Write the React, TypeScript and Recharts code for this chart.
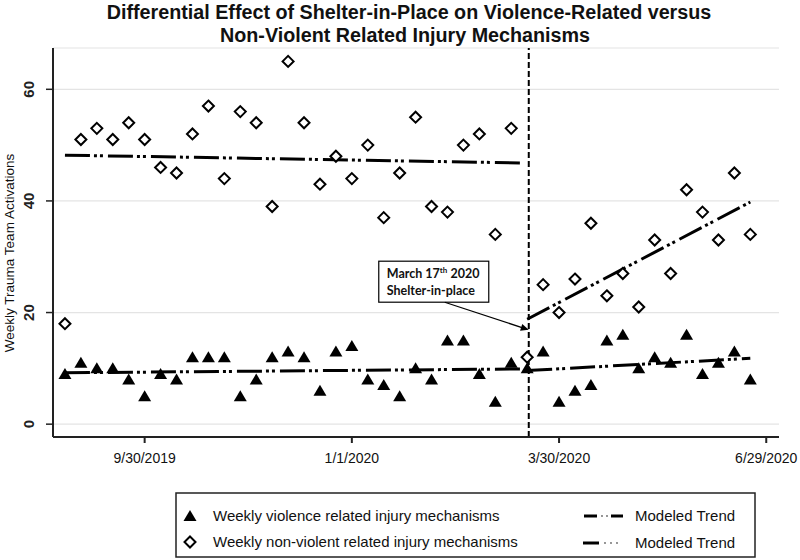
import React from "react";
import {
  ComposedChart,
  Scatter,
  Line,
  XAxis,
  YAxis,
  CartesianGrid,
  ReferenceLine,
} from "recharts";

// Weekly counts, week 0 = week of 8/26/2019
const violentWeekly = [
  9, 11, 10, 10, 8, 5, 9, 8, 12, 12, 12, 5, 8, 12, 13, 12, 6, 13, 14, 8, 7, 5,
  10, 8, 15, 15, 9, 4, 11, 10, 13, 4, 6, 7, 15, 16, 10, 12, 11, 16, 9, 11, 13, 8,
];
const nonViolentWeekly = [
  18, 51, 53, 51, 54, 51, 46, 45, 52, 57, 44, 56, 54, 39, 65, 54, 43, 48, 44, 50,
  37, 45, 55, 39, 38, 50, 52, 34, 53, 12, 25, 20, 26, 36, 23, 27, 21, 33, 27, 42,
  38, 33, 45, 34,
];

// Modeled trends (week, value) endpoints
const trendWeeksPre = [0, 28.75];
const trendWeeksPost = [29.0, 43];
const violentTrendPre = [9.2, 9.9];
const violentTrendPost = [9.6, 11.8];
const nonViolentTrendPre = [48.2, 46.8];
const nonViolentTrendPost = [18.8, 39.8];

const shelterWeek = 29.1;
const xTickWeeks = [5, 18, 31, 44];
const xTickLabels = ["9/30/2019", "1/1/2020", "3/30/2020", "6/29/2020"];
const yTicks = [0, 20, 40, 60];
const Y_DOMAIN: [number, number] = [-2.3, 67.4];
const X_DOMAIN: [number, number] = [-0.75, 44.8];

const violentData = violentWeekly.map((v, i) => ({ x: i, y: v }));
const nonViolentData = nonViolentWeekly.map((v, i) => ({ x: i, y: v }));
const mk = (xs: number[], ys: number[]) => xs.map((x, i) => ({ x, y: ys[i] }));

const FONT = "'Liberation Sans', Arial, sans-serif";
const TREND_DASH = "25 4 3 3 3 5";

const Triangle = (props: any) => {
  const { cx, cy } = props;
  if (cx == null || cy == null) return null;
  return (
    <path
      d={`M${cx},${cy - 6} L${cx + 6.5},${cy + 5} L${cx - 6.5},${cy + 5} Z`}
      fill="#000"
    />
  );
};

const Diamond = (props: any) => {
  const { cx, cy } = props;
  if (cx == null || cy == null) return null;
  return (
    <path
      d={`M${cx},${cy - 5.5} L${cx + 5.5},${cy} L${cx},${cy + 5.5} L${cx - 5.5},${cy} Z`}
      fill="#fff"
      stroke="#000"
      strokeWidth={2}
    />
  );
};

const YTick = (props: any) => {
  const { y, payload } = props;
  return (
    <text
      x={29}
      y={y}
      transform={`rotate(-90 29 ${y})`}
      textAnchor="middle"
      dominantBaseline="central"
      fontSize={15}
      fontWeight="bold"
      fontFamily={FONT}
      fill="#222"
    >
      {payload.value}
    </text>
  );
};

const XTick = (props: any) => {
  const { x, y, payload } = props;
  const idx = xTickWeeks.indexOf(payload.value);
  return (
    <text
      x={x}
      y={y + 18}
      textAnchor="middle"
      fontSize={14}
      fontFamily={FONT}
      fill="#111"
    >
      {idx >= 0 ? xTickLabels[idx] : ""}
    </text>
  );
};

const ShelterLabel = (props: any) => {
  const vb = props.viewBox || {};
  const lx = vb.x;
  const top = vb.y;
  const h = vb.height;
  if (lx == null) return null;
  const yOf = (v: number) =>
    top + (h * (Y_DOMAIN[1] - v)) / (Y_DOMAIN[1] - Y_DOMAIN[0]);
  const bx = lx - 150;
  const by = yOf(29.2);
  const bw = 110;
  const bh = 41;
  const sx = bx + 66;
  const sy = by + bh;
  const ex = lx;
  const ey = yOf(16.9);
  const ang = Math.atan2(ey - sy, ex - sx);
  const al = 8;
  const aw = 3.5;
  const p1x = ex - al * Math.cos(ang) + aw * Math.sin(ang);
  const p1y = ey - al * Math.sin(ang) - aw * Math.cos(ang);
  const p2x = ex - al * Math.cos(ang) - aw * Math.sin(ang);
  const p2y = ey - al * Math.sin(ang) + aw * Math.cos(ang);
  return (
    <g>
      <rect x={bx} y={by} width={bw} height={bh} fill="#fff" stroke="#000" strokeWidth={1.2} />
      <text x={bx + 8} y={by + 17} fontSize={12.5} fontWeight="bold" fontFamily="Lato, 'Open Sans', sans-serif" fill="#111">
        March 17<tspan dy={-5} fontSize={8}>th</tspan>
        <tspan dy={5}> 2020</tspan>
      </text>
      <text x={bx + 8} y={by + 34} fontSize={12.5} fontWeight="bold" fontFamily="Lato, 'Open Sans', sans-serif" fill="#111">
        Shelter-in-place
      </text>
      <line x1={sx} y1={sy} x2={ex - 3} y2={ey - 1} stroke="#000" strokeWidth={1.2} />
      <path d={`M${ex},${ey} L${p1x},${p1y} L${p2x},${p2y} Z`} fill="#000" />
    </g>
  );
};

const TITLE_FONT = "'Liberation Sans Narrow', 'Arial Narrow', 'Liberation Sans', Arial, sans-serif";

export default function App() {
  return (
    <div style={{ position: "absolute", left: 0, top: 0, width: 800, height: 560, background: "#fff" }}>
      <ComposedChart
        width={800}
        height={560}
        margin={{ top: 48, right: 21, bottom: 83, left: 0 }}
        style={{ position: "absolute", left: 0, top: 0 }}
      >
        <CartesianGrid horizontal={true} vertical={false} stroke="#e4e4e4" strokeWidth={1.2} />
        <XAxis
          type="number"
          dataKey="x"
          domain={X_DOMAIN}
          ticks={xTickWeeks}
          allowDataOverflow
          height={40}
          axisLine={{ stroke: "#222", strokeWidth: 2 }}
          tickLine={{ stroke: "#222", strokeWidth: 2 }}
          tickSize={6}
          tick={<XTick />}
        />
        <YAxis
          type="number"
          dataKey="y"
          domain={Y_DOMAIN}
          ticks={yTicks}
          allowDataOverflow
          width={53}
          axisLine={{ stroke: "#222", strokeWidth: 2 }}
          tickLine={{ stroke: "#222", strokeWidth: 1.5 }}
          tickSize={7}
          tick={<YTick />}
        />
        <ReferenceLine
          x={shelterWeek}
          stroke="#000"
          strokeWidth={2}
          strokeDasharray="6 3"
          label={<ShelterLabel />}
        />
        <Line data={mk(trendWeeksPre, nonViolentTrendPre)} dataKey="y" stroke="#000" strokeWidth={3} strokeDasharray={TREND_DASH} dot={false} isAnimationActive={false} />
        <Line data={mk(trendWeeksPost, nonViolentTrendPost)} dataKey="y" stroke="#000" strokeWidth={3} strokeDasharray={TREND_DASH} dot={false} isAnimationActive={false} />
        <Line data={mk(trendWeeksPre, violentTrendPre)} dataKey="y" stroke="#000" strokeWidth={3} strokeDasharray={TREND_DASH} dot={false} isAnimationActive={false} />
        <Line data={mk(trendWeeksPost, violentTrendPost)} dataKey="y" stroke="#000" strokeWidth={3} strokeDasharray={TREND_DASH} dot={false} isAnimationActive={false} />
        <Scatter data={nonViolentData} dataKey="y" shape={<Diamond />} isAnimationActive={false} />
        <Scatter data={violentData} dataKey="y" shape={<Triangle />} isAnimationActive={false} />
      </ComposedChart>
      <svg width={800} height={560} style={{ position: "absolute", left: 0, top: 0, pointerEvents: "none" }}>
        <g transform="translate(409 19) scale(0.94 1)">
          <text x={0} y={0} textAnchor="middle" fontSize={21} fontWeight="bold" fontFamily={TITLE_FONT} fill="#111">
            Differential Effect of Shelter-in-Place on Violence-Related versus
          </text>
        </g>
        <g transform="translate(405 42) scale(0.94 1)">
          <text x={0} y={0} textAnchor="middle" fontSize={21} fontWeight="bold" fontFamily={TITLE_FONT} fill="#111">
            Non-Violent Related Injury Mechanisms
          </text>
        </g>
        <text x={9} y={253} transform="rotate(-90 9 253)" textAnchor="middle" dominantBaseline="central" fontSize={13.5} fontFamily={FONT} fill="#111">
          Weekly Trauma Team Activations
        </text>
        <rect x={176} y={493} width={579} height={64} fill="#fff" stroke="#222" strokeWidth={1.5} />
        <Triangle cx={190} cy={516} />
        <text x={213} y={521} fontSize={15} fontFamily={FONT} fill="#111">Weekly violence related injury mechanisms</text>
        <Diamond cx={190} cy={542} />
        <text x={213} y={547} fontSize={15} fontFamily={FONT} fill="#111">Weekly non-violent related injury mechanisms</text>
        <line x1={584} y1={516} x2={597} y2={516} stroke="#000" strokeWidth={3} />
        <circle cx={602} cy={516} r={0.9} fill="#666" />
        <circle cx={607} cy={516} r={0.9} fill="#666" />
        <line x1={611} y1={516} x2={623} y2={516} stroke="#000" strokeWidth={3} />
        <text x={635} y={521} fontSize={15} fontFamily={FONT} fill="#111">Modeled Trend</text>
        <line x1={583} y1={543} x2={599} y2={543} stroke="#000" strokeWidth={3} />
        <circle cx={605} cy={543} r={0.9} fill="#666" />
        <circle cx={611} cy={543} r={0.9} fill="#666" />
        <circle cx={617} cy={543} r={0.9} fill="#666" />
        <text x={635} y={548} fontSize={15} fontFamily={FONT} fill="#111">Modeled Trend</text>
      </svg>
    </div>
  );
}
